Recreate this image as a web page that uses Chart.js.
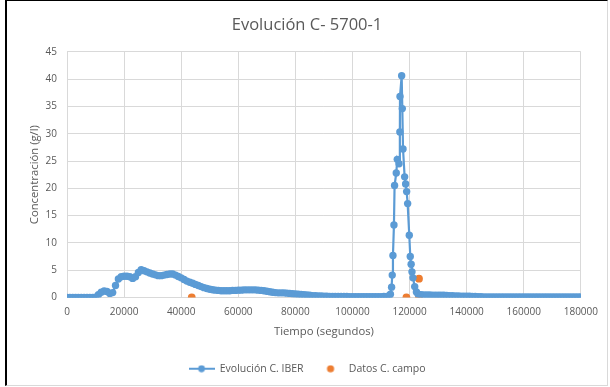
<!DOCTYPE html>
<html>
<head>
<meta charset="utf-8">
<script src="https://cdn.jsdelivr.net/npm/chart.js@4/dist/chart.umd.min.js"></script>
<style>
  html, body { margin: 0; padding: 0; background: #fff; }
  #frame {
    position: absolute; left: 5px; top: 0;
    width: 600px; height: 384px;
    border-left: 2px solid #000; border-top: 1px solid #000;
    border-right: 1px solid #d9d9d9; border-bottom: 1px solid #d9d9d9;
  }
  #c { position: absolute; left: 0; top: 0; }
</style>
</head>
<body>
<div id="frame"><canvas id="c" width="600" height="384"></canvas></div>
<script>
// Model output (IBER): time in seconds and concentration in g/l
const timeEarly = [
  0, 1000, 2000, 3000, 4000, 5000, 6000, 7000, 8000, 9000,
  10000, 11000, 12000, 13000, 14000, 15000, 16000, 17000, 18000, 19000,
  20000, 21000, 22000, 23000, 24000, 25000, 26000, 27000, 28000, 29000,
  30000, 31000, 32000, 33000, 34000, 35000, 36000, 37000, 38000, 39000,
  40000, 41000, 42000, 43000, 44000, 45000, 46000, 47000, 48000, 49000,
  50000, 51000, 52000, 53000, 54000, 55000, 56000, 57000, 58000, 59000,
  60000, 61000, 62000, 63000, 64000, 65000, 66000, 67000, 68000, 69000,
  70000, 71000, 72000, 73000, 74000, 75000, 76000, 77000, 78000, 79000,
  80000, 81000, 82000, 83000, 84000, 85000, 86000, 87000, 88000, 89000,
  90000, 91000, 92000, 93000, 94000, 95000, 96000, 97000, 98000, 99000,
  100000, 101000, 102000, 103000, 104000, 105000, 106000, 107000, 108000, 109000,
  110000, 111000, 112000];
const concEarly = [
  0, 0, 0, 0, 0, 0, 0, 0, 0, 0,
  0.05, 0.5, 0.95, 1.2, 1.1, 0.75, 0.9, 2.2, 3.4, 3.8,
  3.9, 3.9, 3.8, 3.5, 3.8, 4.6, 5.1, 4.9, 4.7, 4.5,
  4.3, 4.15, 4.0, 4.0, 4.1, 4.2, 4.3, 4.3, 4.1, 3.85,
  3.6, 3.3, 3.0, 2.8, 2.6, 2.4, 2.2, 2.0, 1.8, 1.65,
  1.5, 1.42, 1.35, 1.3, 1.25, 1.25, 1.25, 1.25, 1.3, 1.3,
  1.35, 1.35, 1.4, 1.4, 1.4, 1.4, 1.4, 1.35, 1.3, 1.25,
  1.15, 1.05, 0.95, 0.9, 0.85, 0.85, 0.85, 0.8, 0.75, 0.7,
  0.65, 0.6, 0.55, 0.5, 0.45, 0.4, 0.35, 0.32, 0.3, 0.28,
  0.25, 0.23, 0.2, 0.2, 0.2, 0.2, 0.2, 0.18, 0.17, 0.16,
  0.15, 0.15, 0.15, 0.15, 0.15, 0.15, 0.15, 0.15, 0.15, 0.15,
  0.15, 0.17, 0.2];

const timePeak = [112800, 113300, 113700, 113930, 114180, 114530, 114750, 115340, 115700,
  116300, 116600, 116650, 117230, 117460, 117710, 118270, 118620, 118980, 119330, 119900,
  120250, 120550, 120850, 121200, 121800, 122400];
const concPeak = [0.3, 0.6, 1.9, 4.1, 7.7, 13.3, 20.5, 22.8, 25.3,
  24.5, 30.3, 36.8, 40.6, 34.6, 27.2, 22.1, 20.8, 19.4, 17.2, 11.4,
  7.5, 6.1, 4.7, 3.6, 2.0, 1.0];

const timeLate = [
  123000, 124000, 125000, 126000, 127000, 128000, 129000,
  130000, 131000, 132000, 133000, 134000, 135000, 136000, 137000, 138000, 139000,
  140000, 141000, 142000, 143000, 144000, 145000, 146000, 147000, 148000, 149000,
  150000, 151000, 152000, 153000, 154000, 155000, 156000, 157000, 158000, 159000,
  160000, 161000, 162000, 163000, 164000, 165000, 166000, 167000, 168000, 169000,
  170000, 171000, 172000, 173000, 174000, 175000, 176000, 177000, 178000, 179000,
  180000];
const concLate = [
  0.6, 0.5, 0.47, 0.45, 0.45, 0.44, 0.43,
  0.42, 0.41, 0.4, 0.38, 0.35, 0.32, 0.3, 0.28, 0.26, 0.25,
  0.23, 0.22, 0.2, 0.18, 0.16, 0.14, 0.12, 0.11, 0.1, 0.1,
  0.08, 0.08, 0.08, 0.08, 0.08, 0.08, 0.08, 0.08, 0.08, 0.08,
  0.08, 0.08, 0.08, 0.08, 0.08, 0.08, 0.08, 0.08, 0.08, 0.08,
  0.08, 0.08, 0.08, 0.08, 0.08, 0.08, 0.08, 0.08, 0.08, 0.08,
  0.08];

// Field measurements
const timeField = [43700, 118900, 123300, 123300];
const concField = [0, 0, 0, 3.45];

// Axis ticks
const xTicks = [0, 20000, 40000, 60000, 80000, 100000, 120000, 140000, 160000, 180000];
const yTicks = [0, 5, 10, 15, 20, 25, 30, 35, 40, 45];

const BLUE = '#5B9BD5';
const ORANGE = '#ED7D31';
const TEXT = '#595959';
const GRID = '#D9D9D9';
const FONT = "'Open Sans', sans-serif";

function pairs(xs, ys) { return xs.map((x, i) => ({ x: x, y: ys[i] })); }
const iberData = pairs(timeEarly, concEarly)
  .concat(pairs(timePeak, concPeak))
  .concat(pairs(timeLate, concLate));
const fieldData = pairs(timeField, concField);

// Legend symbols: line with marker, and single marker
function lineMarkerIcon() {
  const c = document.createElement('canvas');
  c.width = 26; c.height = 8;
  const g = c.getContext('2d');
  g.strokeStyle = BLUE; g.lineWidth = 2;
  g.beginPath(); g.moveTo(0, 4); g.lineTo(26, 4); g.stroke();
  g.fillStyle = BLUE; g.beginPath(); g.arc(13, 4, 3.4, 0, Math.PI * 2); g.fill();
  return c;
}
function markerIcon() {
  const c = document.createElement('canvas');
  c.width = 26; c.height = 8;
  const g = c.getContext('2d');
  g.fillStyle = ORANGE; g.beginPath(); g.arc(13, 4, 3.6, 0, Math.PI * 2); g.fill();
  return c;
}
const icons = [lineMarkerIcon(), markerIcon()];

new Chart(document.getElementById('c'), {
  type: 'scatter',
  data: {
    datasets: [
      {
        label: 'Evolución C. IBER',
        data: iberData,
        showLine: true,
        borderColor: BLUE,
        backgroundColor: BLUE,
        borderWidth: 2.2,
        pointRadius: 3.7,
        pointBorderWidth: 0,
        pointHoverRadius: 3.7,
        tension: 0
      },
      {
        label: 'Datos C. campo',
        data: fieldData,
        showLine: false,
        borderColor: ORANGE,
        backgroundColor: ORANGE,
        pointRadius: 3.9,
        pointBorderWidth: 0
      }
    ]
  },
  options: {
    responsive: false,
    animation: false,
    layout: { padding: { left: 0, right: 0, top: 0, bottom: 1 } },
    plugins: {
      tooltip: { enabled: false },
      title: {
        display: true,
        text: 'Evolución C- 5700-1',
        color: TEXT,
        font: { family: FONT, size: 16.5, weight: 'normal' },
        padding: { top: 14, bottom: 17 }
      },
      legend: {
        display: true,
        position: 'bottom',
        labels: {
          color: TEXT,
          font: { family: FONT, size: 10.5 },
          usePointStyle: true,
          pointStyleWidth: 26,
          padding: 14,
          generateLabels(chart) {
            return chart.data.datasets.map((ds, i) => ({
              text: ds.label,
              fillStyle: ds.backgroundColor,
              strokeStyle: ds.borderColor,
              lineWidth: 0,
              pointStyle: icons[i],
              hidden: false,
              datasetIndex: i,
              fontColor: TEXT
            }));
          }
        }
      }
    },
    scales: {
      x: {
        type: 'linear',
        min: 0, max: 180000,
        afterBuildTicks(scale) { scale.ticks = xTicks.map(v => ({ value: v })); },
        afterFit(scale) { scale.height = 52; },
        grid: { color: GRID, drawTicks: false, lineWidth: 1 },
        border: { color: GRID },
        ticks: {
          color: TEXT, padding: 9,
          font: { family: FONT, size: 10 },
          maxRotation: 0,
          callback: v => String(v)
        },
        title: {
          display: true, text: 'Tiempo (segundos)', color: TEXT,
          font: { family: FONT, size: 11.3 },
          padding: { top: 0, bottom: 11 }
        }
      },
      y: {
        type: 'linear',
        min: 0, max: 45,
        afterBuildTicks(scale) { scale.ticks = yTicks.map(v => ({ value: v })); },
        afterFit(scale) { scale.width = 60; },
        grid: { color: GRID, drawTicks: false, lineWidth: 1 },
        border: { display: false },
        ticks: {
          color: TEXT, padding: 10,
          font: { family: FONT, size: 10 },
          callback: v => String(v)
        },
        title: {
          display: true, text: 'Concentración (g/l)', color: TEXT,
          font: { family: FONT, size: 11.3 },
          padding: { top: 21, bottom: 0 }
        }
      }
    }
  }
});
</script>
</body>
</html>
